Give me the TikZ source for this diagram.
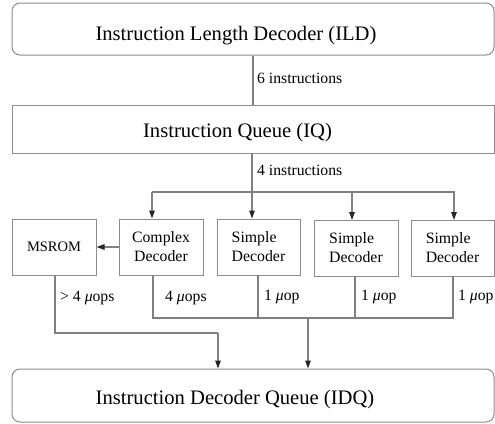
\documentclass[tikz,border=0pt]{standalone}
\usepackage{fontspec}
\setmainfont{Liberation Serif}
\usetikzlibrary{arrows.meta}
\begin{document}
\begin{tikzpicture}[x=1pt,y=-1pt,
  unit/.style={draw=black!45,line width=1pt,fill=white,inner sep=0pt,text=black},
  wide/.style={unit,minimum width=482pt},
  title/.style={anchor=base,inner sep=0pt,font=\fontsize{20.6}{24}\selectfont},
  dec/.style={unit,minimum width=84pt,minimum height=56pt,align=left,font=\fontsize{15.8}{19}\selectfont},
  wire/.style={draw=black!50,line width=1.3pt},
  thick wire/.style={draw=black!50,line width=2pt},
  flow/.style={wire,-{Triangle[width=5.5pt,length=8pt,fill=black!85,color=black!85]}},
  lbl/.style={anchor=west,inner sep=0pt,font=\fontsize{15.7}{18}\selectfont}]
\useasboundingbox (0,0) rectangle (495,423);

% front-end blocks
\node[wide,rounded corners=8pt,minimum height=52pt] (ild) at (253,29) {};
\node[title] (ildText) at (236,40) {Instruction Length Decoder (ILD)};
\node[wide,minimum height=48pt] (iq) at (253,129) {};
\node[title] (iqText) at (237.5,137) {Instruction Queue (IQ)};
\node[wide,rounded corners=8pt,minimum height=53pt] (idq) at (253,395.5) {};
\node[title] (idqText) at (235,404) {Instruction Decoder Queue (IDQ)};

% decoders
\node[dec,font=\fontsize{14.5}{17}\selectfont] (ms) at (54,247) {MSROM};
\node[dec,align=center] (cd) at (161,247) {Complex\\Decoder};
\node[dec,minimum width=83pt] (s1) at (258.5,247) {Simple\\Decoder};
\node[dec] (s2) at (356,248) {Simple\\Decoder};
\node[dec,minimum width=83pt] (s3) at (452.5,248) {Simple\\Decoder};

% ILD -> IQ
\draw[thick wire] (ild.south) -- (iq.south|-iq.north);
\node[lbl] (l6) at (257,78) {6 instructions};

% IQ -> decoders
\coordinate (fan) at (252,192);
\coordinate (fanL) at (152,192);
\coordinate (fanR) at (455,192);
\draw[thick wire] (252,153) -- (fan);
\draw[wire] (fanL) -- (fanR);
\node[lbl] (l4) at (257,170) {4 instructions};
\draw[flow] (fanL) -- (fanL|-cd.north);
\draw[flow] (fan) -- (fan|-s1.north);
\draw[flow] (352,192) -- (352,220);
\draw[flow] (454,192) -- (454,220);

% complex decoder -> MSROM
\draw[flow] (cd.west) -- (ms.east);

% outputs merge
\coordinate (mergeL) at (153,318);
\coordinate (mergeR) at (453,318);
\coordinate (mergeOut) at (308,318);
\draw[wire] (153,275) -- (mergeL) -- (mergeR) -- (453,276);
\draw[wire] (258,275) -- (258,318);
\draw[thick wire] (355,276) -- (355,318);
\draw[flow] (mergeOut) -- (mergeOut|-idq.north);

% MSROM path
\coordinate (msBend) at (55,333);
\coordinate (msDrop) at (218,333);
\draw[thick wire] (55,275) -- (msBend) -- (msDrop);
\draw[flow] (msDrop) -- (msDrop|-idq.north);

% output labels
\node[lbl] (m0) at (60,298) {> 4 {\itshape μ}ops};
\node[lbl] (m1) at (165,298) {4 {\itshape μ}ops};
\node[lbl] (m2) at (264,297) {1 {\itshape μ}op};
\node[lbl] (m3) at (361,297) {1 {\itshape μ}op};
\node[lbl] (m4) at (458,297) {1 {\itshape μ}op};
\end{tikzpicture}
\end{document}
